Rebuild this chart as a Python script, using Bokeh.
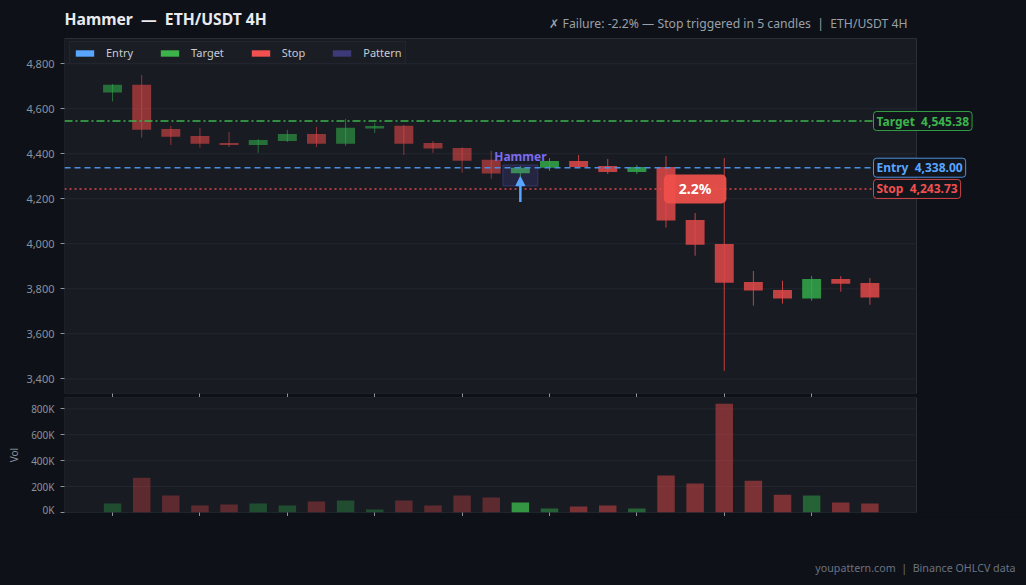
import numpy as np
from bokeh.plotting import figure
from bokeh.models import (ColumnDataSource, Range1d, Label, Arrow, NormalHead, Legend, LegendItem,
                          FixedTicker, NumeralTickFormatter, CustomJSTickFormatter)
from bokeh.layouts import column
from bokeh.embed import file_html
from bokeh.resources import INLINE

# ---------------- data ----------------
opens  = [4672, 4706, 4510, 4479, 4448, 4439, 4457, 4488, 4445, 4512, 4524, 4448, 4426, 4373,
          4313, 4338, 4368, 4346, 4319, 4341, 4106, 3999, 3830, 3795, 3757, 3844, 3826]
highs  = [4710, 4750, 4524, 4515, 4497, 4466, 4506, 4519, 4555, 4537, 4528, 4457, 4428, 4413,
          4346, 4381, 4395, 4377, 4350, 4390, 4137, 4381, 3879, 3836, 3857, 3857, 3848]
lows   = [4632, 4472, 4439, 4427, 4430, 4404, 4452, 4430, 4435, 4492, 4395, 4404, 4316, 4289,
          4268, 4324, 4337, 4310, 4310, 4072, 3947, 3436, 3725, 3734, 3747, 3787, 3729]
closes = [4706, 4507, 4476, 4445, 4439, 4461, 4488, 4445, 4515, 4523, 4445, 4423, 4369, 4312,
          4338, 4368, 4341, 4319, 4341, 4103, 3996, 3827, 3792, 3757, 3844, 3823, 3761]
volumes = [69e3, 269e3, 131e3, 54e3, 62e3, 69e3, 54e3, 85e3, 92e3, 23e3, 92e3, 54e3, 131e3, 115e3,
           77e3, 31e3, 46e3, 54e3, 31e3, 285e3, 223e3, 840e3, 246e3, 138e3, 131e3, 77e3, 69e3]

price_ticks = [3400, 3600, 3800, 4000, 4200, 4400, 4600, 4800]
volume_ticks = [0, 200e3, 400e3, 600e3, 800e3]

pattern_index = 14
pattern_name = "Hammer"
entry_price = 4338.00
target_price = 4545.38
stop_price = 4243.73
pattern_top = 4350
pattern_bottom = 4257
arrow_from = 4186
arrow_to = 4298
result_text = "2.2%"
result_index = 20

SP2 = " \u00a0"  # visible double space in SVG text
title_text = f"Hammer{SP2}\u2014{SP2}ETH/USDT 4H"
subtitle_text = f"\u2717 Failure: -2.2% \u2014 Stop triggered in 5 candles{SP2}|{SP2}ETH/USDT 4H"
footer_text = f"youpattern.com{SP2}|{SP2}Binance OHLCV data"

# ---------------- styling ----------------
FONT = "Noto Sans"
PAGE_BG = "#0e1118"
PLOT_BG = "#181b22"
GRID = "#23272f"
OUTLINE = "#2a2e37"
TICK_TXT = "#8b929c"
GREEN = "#32a94a"
RED = "#e04848"
HAMMER_GREEN = "#3cb44b"
C_ENTRY = "#58a6ff"
C_ENTRY_LINE = "#4a90e2"
C_TARGET = "#3cb44b"
C_STOP = "#f05050"
C_STOP_LINE = "#e0484a"
C_PATTERN = "#3d3a7a"

n = len(opens)
idx = list(range(n))
up = [c >= o for o, c in zip(opens, closes)]
colors, alphas, valphas = [], [], []
for i in idx:
    if i == pattern_index:
        colors.append(HAMMER_GREEN if up[i] else RED)
        alphas.append(1.0)
        valphas.append(0.8)
    else:
        colors.append(GREEN if up[i] else RED)
        alphas.append(0.6 if i < pattern_index else 0.85)
        valphas.append(0.35 if i < pattern_index else 0.5)

src = ColumnDataSource(dict(
    x=idx,
    top=[max(o, c) for o, c in zip(opens, closes)],
    bottom=[min(o, c) for o, c in zip(opens, closes)],
    high=highs, low=lows, color=colors, alpha=alphas,
    vol=volumes, valpha=valphas,
))

# plot-area geometry (pixels)
W, H = 1026, 585
FL, FR = 64, 916          # plot area left / right
PT, PB = 38, 393          # price plot area top / bottom
VT, VB = 397, 512         # volume plot area top / bottom
X0, X1 = -1.65, 27.6
Y0, Y1 = 3335, 4912
V1 = 888e3
ppu = (FR - FL) / (X1 - X0)
x_end = X0 + (W - FL) / ppu
ppy = (PB - PT) / (Y1 - Y0)
main_y_top = Y1 + PT / ppy
label_x = X0 + (873 - FL) / ppu


def style_axes(fig):
    for ax in (fig.xaxis, fig.yaxis):
        ax.axis_line_color = None
        ax.major_tick_line_color = TICK_TXT
        ax.major_tick_in = 0
        ax.major_tick_out = 4
        ax.major_label_standoff = 6
        ax.minor_tick_line_color = None
    fig.xaxis.ticker = FixedTicker(ticks=idx[::3])
    fig.xaxis.formatter = CustomJSTickFormatter(code="return '';")
    fig.xaxis.major_label_standoff = 0
    fig.yaxis.major_label_text_color = TICK_TXT
    fig.yaxis.major_label_text_font = FONT


# ---------------- main figure (frame extends to top and right edge) ----------------
p = figure(width=W, height=PB + 4, output_backend="svg", toolbar_location=None,
           x_range=Range1d(X0, x_end), y_range=Range1d(Y0, main_y_top),
           min_border_left=FL, min_border_right=0, min_border_top=0, min_border_bottom=4)
p.background_fill_color = PAGE_BG
p.border_fill_color = PAGE_BG
p.outline_line_color = None
p.xgrid.grid_line_color = None
p.ygrid.grid_line_color = None

p.quad(left=[X0], right=[X1], bottom=[Y0], top=[Y1], fill_color=PLOT_BG,
       line_color=OUTLINE, line_width=1)
p.segment(x0=[X0] * len(price_ticks), x1=[X1] * len(price_ticks), y0=price_ticks,
          y1=price_ticks, line_color=GRID, line_width=1)

p.segment(x0="x", x1="x", y0="low", y1="high", line_color="color", line_alpha="alpha",
          line_width=1, source=src)
p.vbar(x="x", width=0.65, top="top", bottom="bottom", fill_color="color", fill_alpha="alpha",
       line_color=None, source=src)

p.quad(left=[pattern_index - 0.6], right=[pattern_index + 0.6], top=[pattern_top],
       bottom=[pattern_bottom], fill_color=C_PATTERN, fill_alpha=0.35,
       line_color="#4b48a8", line_alpha=0.5, line_width=1)

p.segment(x0=[X0], x1=[label_x], y0=[target_price], y1=[target_price],
          line_color=C_TARGET, line_width=1.5, line_dash="8 3 2 3")
p.segment(x0=[X0], x1=[label_x], y0=[entry_price], y1=[entry_price],
          line_color=C_ENTRY_LINE, line_width=1.5, line_dash="6 4")
p.segment(x0=[X0], x1=[label_x], y0=[stop_price], y1=[stop_price],
          line_color=C_STOP_LINE, line_width=1.5, line_dash="2 3")


def swatch(col):
    return p.rect(x="x", y="y", width=1, height=1, fill_color=col, line_color=None,
                  source=ColumnDataSource(dict(x=[np.nan], y=[np.nan])))


r_entry, r_target, r_stop, r_pat = (swatch(C_ENTRY), swatch(C_TARGET), swatch(C_STOP),
                                    swatch(C_PATTERN))
legend = Legend(items=[LegendItem(label="Entry", renderers=[r_entry]),
                       LegendItem(label="Target", renderers=[r_target]),
                       LegendItem(label="Stop", renderers=[r_stop]),
                       LegendItem(label="Pattern", renderers=[r_pat])],
                location=(5, PB - 64), orientation="horizontal")
legend.background_fill_color = "#1b1e25"
legend.background_fill_alpha = 0.95
legend.border_line_color = OUTLINE
legend.label_text_color = "#c9ccd3"
legend.label_text_font = FONT
legend.label_text_font_size = "11px"
legend.glyph_width = 23
legend.glyph_height = 8
legend.label_standoff = 10
legend.spacing = 25
legend.padding = 3
legend.label_height = 15
legend.margin = 0
p.add_layout(legend)

style_axes(p)
p.yaxis.ticker = FixedTicker(ticks=price_ticks)
p.yaxis.formatter = NumeralTickFormatter(format="0,0")
p.yaxis.major_label_text_font_size = "11px"

p.add_layout(Arrow(end=NormalHead(size=9, fill_color=C_ENTRY, line_color=C_ENTRY),
                   x_start=pattern_index, y_start=arrow_from, x_end=pattern_index, y_end=arrow_to,
                   line_color=C_ENTRY, line_width=2.5))
p.add_layout(Label(x=pattern_index, y=pattern_top, text=pattern_name, text_align="center",
                   text_baseline="bottom", y_offset=0, text_color="#7b6cf0",
                   text_font=FONT, text_font_style="bold", text_font_size="12px"))
p.add_layout(Label(x=result_index, y=stop_price, text=result_text, text_align="center",
                   text_baseline="middle", text_color="white", text_font=FONT,
                   text_font_style="bold", text_font_size="14px",
                   background_fill_color="#f0504a", background_fill_alpha=0.93,
                   border_radius=5, padding=dict(left=15, right=15, top=5, bottom=5)))

for price, name, col in [(target_price, "Target", C_TARGET), (entry_price, "Entry", C_ENTRY),
                         (stop_price, "Stop", C_STOP)]:
    p.add_layout(Label(x=label_x, y=price, text=f"{name}{SP2}{price:,.2f}", text_align="left",
                       text_baseline="middle", text_color=col, text_font=FONT,
                       text_font_style="bold", text_font_size="12px",
                       background_fill_color="#12151b", background_fill_alpha=1.0,
                       border_line_color=col, border_line_alpha=0.85, border_line_width=1,
                       border_radius=3, padding=dict(left=3, right=3, top=1, bottom=1)))

p.add_layout(Label(x=0, y=PB - 18, x_units="screen", y_units="screen", text=title_text,
                   text_align="left", text_baseline="middle", text_color="#e8eaed",
                   text_font=FONT, text_font_style="bold", text_font_size="15.7px"))
p.add_layout(Label(x=907 - FL, y=PB - 23, x_units="screen", y_units="screen", text=subtitle_text,
                   text_align="right", text_baseline="middle", text_color="#9aa0a8",
                   text_font=FONT, text_font_size="12.2px"))

# ---------------- volume figure ----------------
v = figure(width=W, height=(VB - VT) + 4, output_backend="svg", toolbar_location=None,
           x_range=Range1d(X0, x_end), y_range=Range1d(0, V1),
           min_border_left=FL, min_border_right=0, min_border_top=0, min_border_bottom=4)
v.background_fill_color = PAGE_BG
v.border_fill_color = PAGE_BG
v.outline_line_color = None
v.xgrid.grid_line_color = None
v.ygrid.grid_line_color = None
v.quad(left=[X0], right=[X1], bottom=[0], top=[V1], fill_color=PLOT_BG,
       line_color=OUTLINE, line_width=1)
v.segment(x0=[X0] * len(volume_ticks), x1=[X1] * len(volume_ticks), y0=volume_ticks,
          y1=volume_ticks, line_color=GRID, line_width=1)
v.vbar(x="x", width=0.6, top="vol", bottom=0, fill_color="color", fill_alpha="valpha",
       line_color=None, source=src)
style_axes(v)
v.yaxis.ticker = FixedTicker(ticks=volume_ticks)
v.yaxis.formatter = CustomJSTickFormatter(code="return (tick/1000).toFixed(0) + 'K';")
v.yaxis.major_label_text_font_size = "10px"
v.yaxis.axis_label = "Vol"
v.yaxis.axis_label_text_color = TICK_TXT
v.yaxis.axis_label_text_font = FONT
v.yaxis.axis_label_text_font_size = "10px"
v.yaxis.axis_label_text_font_style = "normal"
v.yaxis.axis_label_standoff = 7

# ---------------- footer ----------------
fh = H - (PB + 4) - ((VB - VT) + 4)
f = figure(width=W, height=fh, output_backend="svg", toolbar_location=None,
           x_range=Range1d(FL, W), y_range=Range1d(0, fh),
           min_border_left=FL, min_border_right=0, min_border_top=0, min_border_bottom=0,
           x_axis_location=None, y_axis_location=None)
f.background_fill_color = PAGE_BG
f.border_fill_color = PAGE_BG
f.outline_line_color = None
f.xgrid.grid_line_color = None
f.ygrid.grid_line_color = None
f.add_layout(Label(x=1015, y=fh - (567 - (VB + 4)), text=footer_text,
                   text_align="right", text_baseline="middle", text_color="#6b7280",
                   text_font=FONT, text_font_size="10.7px"))

layout = column(p, v, f, spacing=0)
layout.styles = {"background-color": PAGE_BG}
html = file_html(layout, INLINE)
html = html.replace("<body>", f'<body style="margin:0;background:{PAGE_BG};">')
open("out.html", "w").write(html)
